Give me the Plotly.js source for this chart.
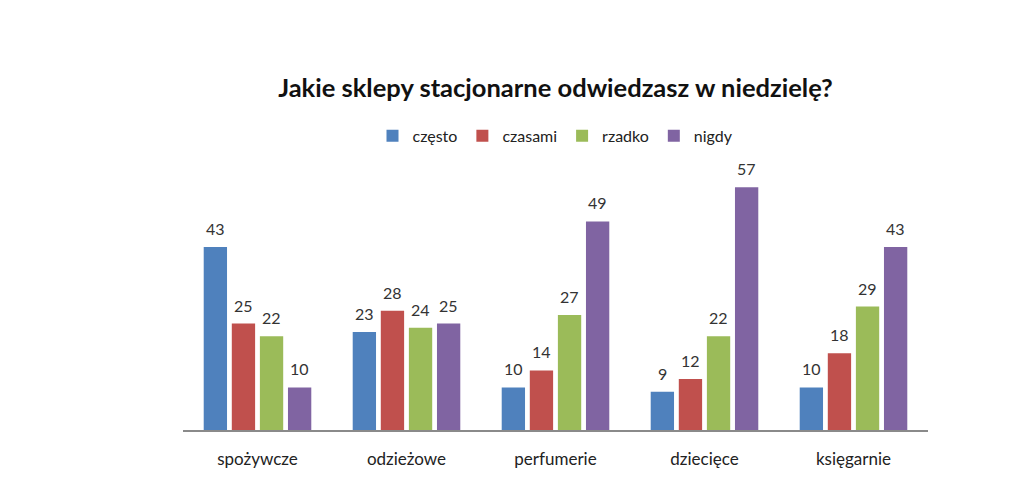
<!DOCTYPE html>
<html>
<head>
<meta charset="utf-8">
<script src="https://cdn.plot.ly/plotly-3.0.1.min.js"></script>
<style>
  body { margin: 0; background: #fff; }
  #chart { width: 1024px; height: 491px; }
</style>
</head>
<body>
<div id="chart"></div>
<script>
var categories = ["spożywcze", "odzieżowe", "perfumerie", "dziecięce", "księgarnie"];
var seriesNames = ["często", "czasami", "rzadko", "nigdy"];
var czesto  = [43, 23, 10, 9, 10];
var czasami = [25, 28, 14, 12, 18];
var rzadko  = [22, 24, 27, 22, 29];
var nigdy   = [10, 25, 49, 57, 43];
var colors = ["#4F81BD", "#C0504D", "#9BBB59", "#8064A2"];

var values = [czesto, czasami, rzadko, nigdy];
var font = "Lato, 'Open Sans', sans-serif";
var bargap = 0.246;

var data = values.map(function (v, i) {
    return {
        type: "bar",
        name: seriesNames[i],
        x: categories,
        y: v,
        marker: { color: colors[i] },
        hoverinfo: "x+y+name"
    };
});

// value labels above each bar, placed in data units of the category axis
var slot = (1 - bargap) / values.length;
var annotations = [];
values.forEach(function (v, i) {
    v.forEach(function (val, c) {
        annotations.push({
            xref: "x", yref: "y",
            x: c + (i - (values.length - 1) / 2) * slot,
            y: val,
            text: String(val),
            showarrow: false,
            xanchor: "center", yanchor: "bottom",
            yshift: 7,
            font: { family: font, size: 16, color: "#333" }
        });
    });
});

var layout = {
    width: 1024,
    height: 491,
    paper_bgcolor: "#fff",
    plot_bgcolor: "#fff",
    margin: { l: 183, r: 96, t: 170, b: 61 },
    barmode: "group",
    bargap: bargap,
    bargroupgap: 0.17,
    title: {
        text: "<b>Jakie sklepy stacjonarne odwiedzasz w niedzielę?</b>",
        font: { family: font, size: 25.5, color: "#111" },
        xref: "paper", x: 0.5, xanchor: "center",
        yref: "container", y: 0.821, yanchor: "middle"
    },
    showlegend: true,
    legend: {
        orientation: "h",
        xref: "paper", x: 0.5, xanchor: "center",
        yref: "paper", y: 1.131, yanchor: "middle",
        itemwidth: 30,
        font: { family: font, size: 16, color: "#222" }
    },
    annotations: annotations,
    xaxis: {
        showline: true,
        linecolor: "#8a8a8a",
        linewidth: 1.5,
        ticks: "",
        ticklabelstandoff: 13,
        tickfont: { family: font, size: 17, color: "#222" },
        showgrid: false,
        zeroline: false
    },
    yaxis: {
        range: [0, 61.07],
        showticklabels: false,
        showgrid: false,
        zeroline: false,
        showline: false,
        ticks: ""
    }
};

Plotly.newPlot("chart", data, layout, { displayModeBar: false, staticPlot: true });
</script>
</body>
</html>
